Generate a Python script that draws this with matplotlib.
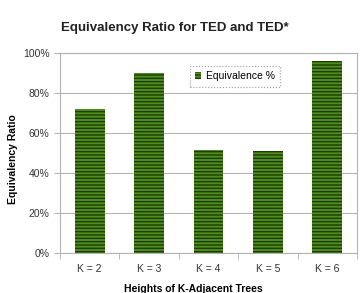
import numpy as np
import matplotlib.pyplot as plt

plt.rcParams['font.family'] = ['Liberation Sans', 'DejaVu Sans']

categories = ['K = 2', 'K = 3', 'K = 4', 'K = 5', 'K = 6']
equivalence = [72, 90, 51.5, 50.8, 96]
y_ticks = [0, 20, 40, 60, 80, 100]

fig = plt.figure(figsize=(3.61, 2.93), dpi=100)
ax = fig.add_axes([60 / 361, 40 / 293, 297 / 361, 200 / 293])

x = np.arange(len(categories))
plt.rcParams['hatch.color'] = '#1e3d05'
plt.rcParams['hatch.linewidth'] = 1.0
ax.bar(x, equivalence, width=0.5, color='#4e8c1e', hatch='-----',
       edgecolor='#1e3d05', linewidth=0, label='Equivalence %', zorder=3)

ax.set_xlim(-0.5, len(categories) - 0.5)
ax.set_ylim(0, 100)
ax.set_yticks(y_ticks)
ax.set_yticklabels([f'{v}%' for v in y_ticks])
ax.set_xticks(x)
ax.set_xticklabels(categories)
ax.set_xticks(np.arange(-0.5, len(categories)), minor=True)
ax.tick_params(axis='x', which='major', length=0, pad=8, labelsize=7.5, colors='#333333')
ax.tick_params(axis='x', which='minor', length=4, color='#b3b3b3')
ax.tick_params(axis='y', length=4, color='#b3b3b3', labelsize=7.5, colors='#333333')
ax.tick_params(axis='y', color='#b3b3b3')
ax.grid(axis='y', color='#b3b3b3', linewidth=0.8, zorder=0)
for s in ax.spines.values():
    s.set_color('#b3b3b3')
    s.set_linewidth(0.8)

ax.set_xlabel('Heights of K-Adjacent Trees', fontsize=7.5, fontweight='bold')
ax.xaxis.set_label_coords(0.448, -0.155)
ax.set_ylabel('Equivalency Ratio', fontsize=7.5, fontweight='bold')
ax.yaxis.set_label_coords(-0.142, 0.47)
fig.text(0.485, 0.905, 'Equivalency Ratio for TED and TED*', ha='center', va='center',
         fontsize=9.5, fontweight='bold', color='#222222')

leg = ax.legend(loc='upper left', bbox_to_anchor=(0.42, 0.96), fontsize=7.5,
                handlelength=0.6, handleheight=0.6, handletextpad=0.4,
                fancybox=False, borderpad=0.5)
leg.get_frame().set_linestyle(':')
leg.get_frame().set_edgecolor('#888888')
leg.get_frame().set_linewidth(0.8)

fig.savefig('out.png', dpi=100)
